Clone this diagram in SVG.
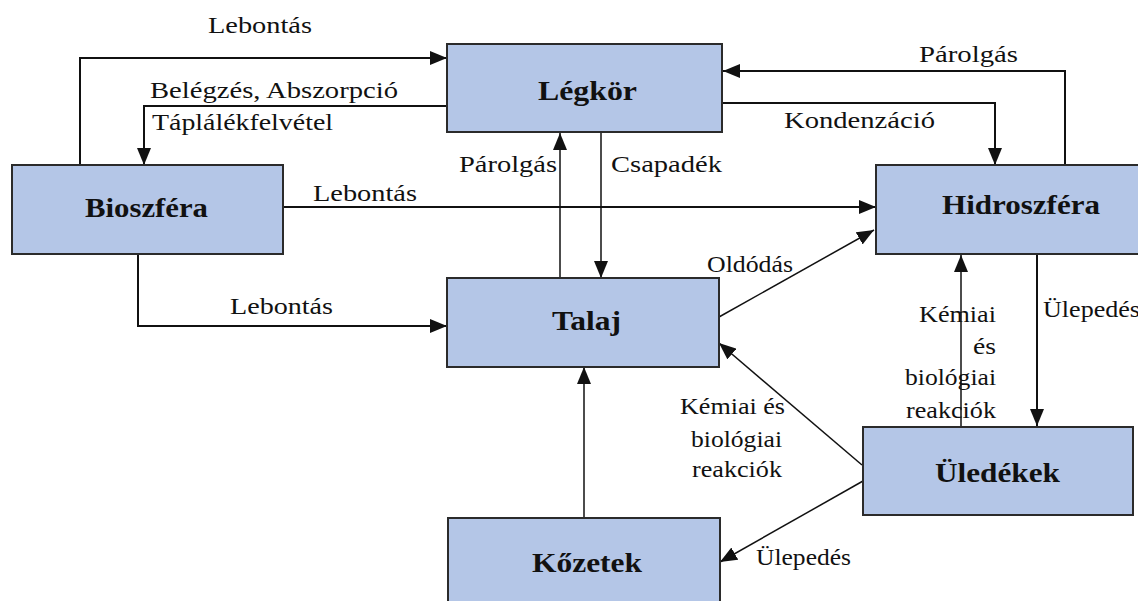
<svg xmlns="http://www.w3.org/2000/svg" width="1138" height="601" viewBox="0 0 1138 601">
  <style>
    .box { fill: #b4c6e7; stroke: #2b2b2b; stroke-width: 2; }
    .title { font-family: "Times New Roman", "Liberation Serif", Tinos, serif; font-size: 28px; font-weight: bold; fill: #111; }
    .lbl { font-family: "Times New Roman", "Liberation Serif", Tinos, serif; font-size: 24px; fill: #111; }
    .conn { fill: none; stroke: #111; stroke-width: 2; marker-end: url(#arrow); }
    .thin { stroke-width: 1.5; }
  </style>
  <defs>
    <marker id="arrow" markerUnits="userSpaceOnUse" markerWidth="18" markerHeight="14" refX="17" refY="7" orient="auto">
      <path d="M0,0 L17,7 L0,14 Z" fill="#111"/>
    </marker>
  </defs>
  <rect width="1138" height="601" fill="#ffffff"/>

  <!-- connectors -->
  <g id="connectors">
    <path class="conn" d="M80,165 V58 H447"/>
    <path class="conn" d="M447,106 H144 V165"/>
    <path class="conn" d="M283,207 H876"/>
    <path class="conn" d="M138,254 V326 H447"/>
    <path class="conn thin" d="M560,278 V133"/>
    <path class="conn thin" d="M601,132 V278"/>
    <path class="conn" d="M722,103 H995 V165"/>
    <path class="conn" d="M1065,165 V71 H723"/>
    <path class="conn thin" d="M719,317 L874,230"/>
    <path class="conn" d="M1037,254 V426"/>
    <path class="conn thin" d="M961,427 V255"/>
    <path class="conn thin" d="M862,465 L719,343"/>
    <path class="conn thin" d="M863,481 L720,562"/>
    <path class="conn thin" d="M584,518 V367"/>
  </g>

  <!-- connector labels -->
  <g id="labels">
    <text class="lbl" x="208" y="33" textLength="104" lengthAdjust="spacingAndGlyphs">Lebontás</text>
    <text class="lbl" x="150" y="98" textLength="248" lengthAdjust="spacingAndGlyphs">Belégzés, Abszorpció</text>
    <text class="lbl" x="152" y="130" textLength="181" lengthAdjust="spacingAndGlyphs">Táplálékfelvétel</text>
    <text class="lbl" x="313" y="201" textLength="104" lengthAdjust="spacingAndGlyphs">Lebontás</text>
    <text class="lbl" x="230" y="314" textLength="103" lengthAdjust="spacingAndGlyphs">Lebontás</text>
    <text class="lbl" x="919" y="62" textLength="99" lengthAdjust="spacingAndGlyphs">Párolgás</text>
    <text class="lbl" x="784" y="128" textLength="151" lengthAdjust="spacingAndGlyphs">Kondenzáció</text>
    <text class="lbl" x="459" y="172" textLength="98" lengthAdjust="spacingAndGlyphs">Párolgás</text>
    <text class="lbl" x="611" y="172" textLength="111" lengthAdjust="spacingAndGlyphs">Csapadék</text>
    <text class="lbl" x="707" y="272" textLength="86" lengthAdjust="spacingAndGlyphs">Oldódás</text>
    <text class="lbl" x="919" y="322" textLength="77" lengthAdjust="spacingAndGlyphs">Kémiai</text>
    <text class="lbl" x="973" y="354" textLength="23" lengthAdjust="spacingAndGlyphs">és</text>
    <text class="lbl" x="905" y="385" textLength="91" lengthAdjust="spacingAndGlyphs">biológiai</text>
    <text class="lbl" x="906" y="418" textLength="90" lengthAdjust="spacingAndGlyphs">reakciók</text>
    <text class="lbl" x="1043" y="317" textLength="97" lengthAdjust="spacingAndGlyphs">Ülepedés</text>
    <text class="lbl" x="680" y="414" textLength="105" lengthAdjust="spacingAndGlyphs">Kémiai és</text>
    <text class="lbl" x="691" y="447" textLength="91" lengthAdjust="spacingAndGlyphs">biológiai</text>
    <text class="lbl" x="692" y="477" textLength="90" lengthAdjust="spacingAndGlyphs">reakciók</text>
    <text class="lbl" x="756" y="565" textLength="95" lengthAdjust="spacingAndGlyphs">Ülepedés</text>
  </g>

  <!-- nodes -->
  <g id="legkor">
    <rect class="box" x="447" y="44" width="275" height="88"/>
    <text class="title" x="538" y="100" textLength="99" lengthAdjust="spacingAndGlyphs">Légkör</text>
  </g>
  <g id="bioszfera">
    <rect class="box" x="12" y="165" width="271" height="89"/>
    <text class="title" x="85" y="217" textLength="123" lengthAdjust="spacingAndGlyphs">Bioszféra</text>
  </g>
  <g id="hidroszfera">
    <rect class="box" x="876" y="165" width="280" height="89"/>
    <text class="title" x="942" y="214" textLength="158" lengthAdjust="spacingAndGlyphs">Hidroszféra</text>
  </g>
  <g id="talaj">
    <rect class="box" x="447" y="278" width="272" height="89"/>
    <text class="title" x="552" y="330" textLength="69" lengthAdjust="spacingAndGlyphs">Talaj</text>
  </g>
  <g id="uledekek">
    <rect class="box" x="863" y="427" width="270" height="88"/>
    <text class="title" x="935" y="482" textLength="125" lengthAdjust="spacingAndGlyphs">Üledékek</text>
  </g>
  <g id="kozetek">
    <rect class="box" x="448" y="518" width="272" height="100"/>
    <text class="title" x="532" y="572" textLength="110" lengthAdjust="spacingAndGlyphs">Kőzetek</text>
  </g>
</svg>
